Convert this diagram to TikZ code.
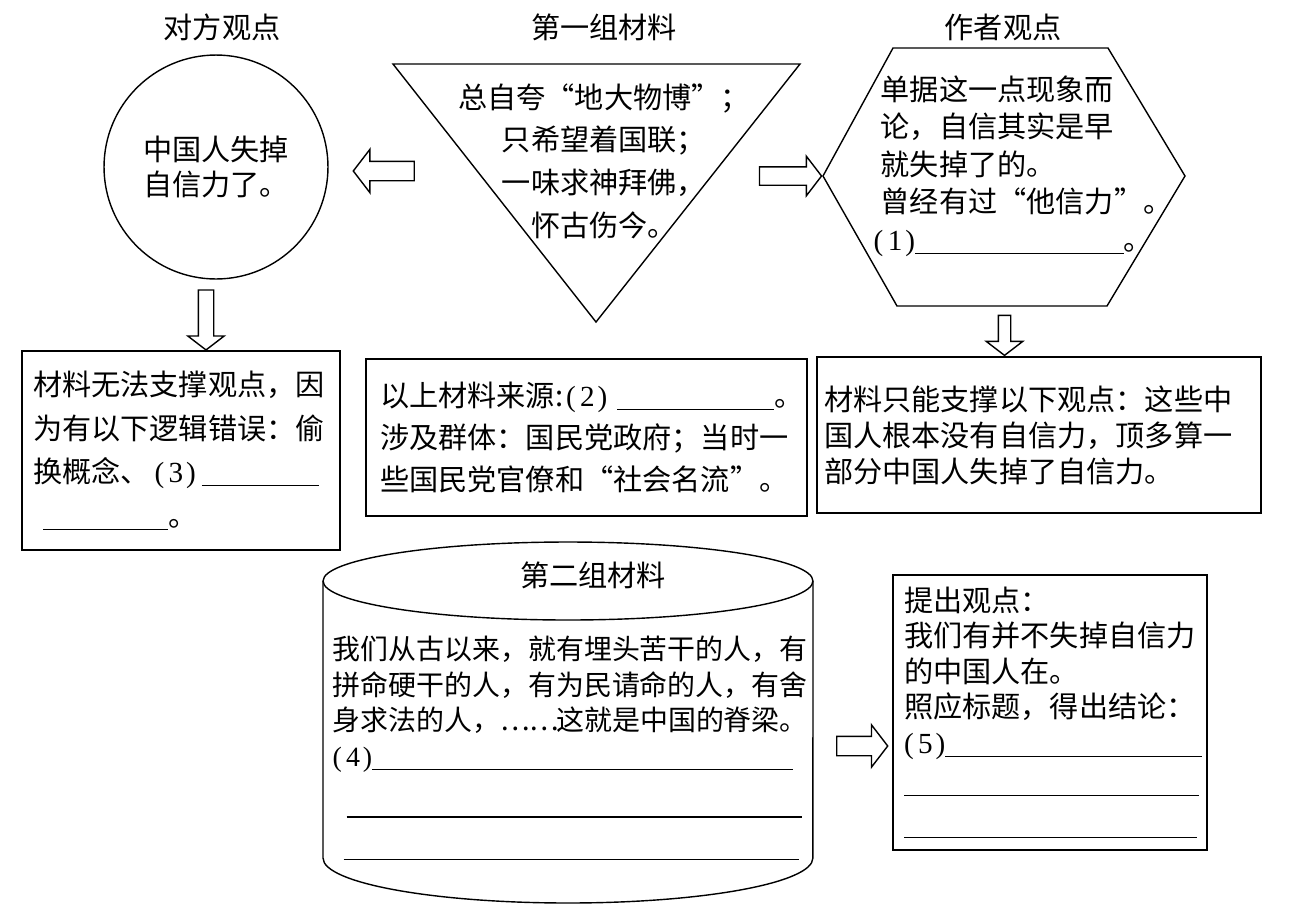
\documentclass[tikz,border=0pt]{standalone}
\usepackage{fontspec}
\setmainfont{Noto Sans CJK SC}
\newfontfamily\latinfont{Liberation Serif}
\usetikzlibrary{shapes.arrows}
\setlength{\parindent}{0pt}
\newcommand{\fillin}[1]{\rule[-2pt]{#1}{0.6pt}}
\newcommand{\qnum}[1]{{\latinfont(\kern0.15em#1\kern0.1em)}}

\begin{document}
\begin{tikzpicture}[x=0.02cm,y=-0.02cm,line width=0.8pt,
	title/.style={inner sep=0pt,font=\fontsize{16.6}{20}\selectfont},
	txt/.style={inner sep=0pt,align=left,font=\fontsize{16.6}{#1}\selectfont},
	box/.style={draw,inner sep=0pt,align=left,font=\fontsize{16.6}{#1}\selectfont},
	fat/.style n args={4}{single arrow,draw,inner sep=0pt,single arrow tip angle=105,
		single arrow head indent=0pt,minimum height=#1,minimum width=0pt,
		text height=#2,text depth=0pt,text width=0pt,
		single arrow head extend=#3,rotate=#4}]
	\path[use as bounding box] (0,0) rectangle (1292,917);

	\node[title] (t1) at (222,27) {对方观点};
	\node[title] (t2) at (604,27) {第一组材料};
	\node[title] (t3) at (1003,27) {作者观点};

	\node[draw,circle,minimum size=4.48cm,txt=19.9pt,align=center] (them) at (216,167) {中国人失掉\\自信力了。};

	\draw (393,64) -- (800,64) -- (596,322) -- cycle;
	\node[txt=24.3pt,align=center] (mat1) at (604,161) {总自夸“地大物博”；\\只希望着国联；\\一味求神拜佛，\\怀古伤今。};

	\draw (893,48) -- (1108,48) -- (1185,176) -- (1107,306) -- (897,306) -- (823,176) -- cycle;
	\node[txt=21.3pt,anchor=west] (author) at (880,166) {单据这一点现象而\\论，自信其实是早\\就失掉了的。\\曾经有过“他信力”。\\\hspace*{-0.14cm}\qnum{1}\fillin{4.18cm}。};

	\node[fat={1.22cm}{0.36cm}{0.24cm}{180}] (a1) at (387.5,171) {};
	\node[fat={1.24cm}{0.34cm}{0.21cm}{0}] (a2) at (787,176) {};
	\node[fat={1.2cm}{0.28cm}{0.21cm}{270}] (a3) at (206,317) {};
	\node[fat={0.8cm}{0.22cm}{0.24cm}{270}] (a4) at (1004.5,333) {};
	\node[fat={1.02cm}{0.36cm}{0.23cm}{0}] (a5) at (858.5,746) {};

	\node[box=25pt,minimum width=6.36cm,minimum height=3.98cm,text width=5.92cm] (flaw) at (181,450.5)
		{材料无法支撑观点，因\\为有以下逻辑错误：偷\\换概念、\kern0.1cm\qnum{3}\kern0.12cm\fillin{2.34cm}\\\hspace*{0.2cm}\fillin{2.5cm}。};
	\node[box=23.9pt,minimum width=8.82cm,minimum height=3.14cm,text width=8.26cm] (source) at (586.5,437.5)
		{以上材料来源:\kern0.06cm\qnum{2}\kern0.2cm\fillin{3.14cm}。\\涉及群体：国民党政府；当时一\\些国民党官僚和“社会名流”。};
	\node[box=20.5pt,minimum width=8.88cm,minimum height=3.12cm,text width=8.6cm] (support) at (1039,435)
		{材料只能支撑以下观点：这些中\\国人根本没有自信力，顶多算一\\部分中国人失掉了自信力。};

	\draw (568,581) ellipse [x radius=4.9cm,y radius=0.78cm];
	\draw (323,581) -- (323,858) arc [start angle=180,end angle=360,x radius=4.9cm,y radius=0.9cm] -- (813,581);
	\node[title] (t4) at (593,575) {第二组材料};
	\node[txt=20.3pt,font=\fontsize{15.9}{20.3}\selectfont,text width=9.7cm,anchor=west] (mat2) at (332,748)
		{我们从古以来，就有埋头苦干的人，有\\拼命硬干的人，有为民请命的人，有舍\\身求法的人，\makebox[1.12cm][s]{…\hfill…}这就是中国的脊梁。\\\qnum{4}\fillin{8.42cm}\\[6.8pt]\hspace*{0.28cm}\fillin{9.1cm}\\[4pt]\hspace*{0.22cm}\fillin{9.1cm}};

	\node[box=20.2pt,minimum width=6.28cm,minimum height=5.5cm,text width=5.84cm] (claim) at (1050,712.5)
		{提出观点：\\我们有并不失掉自信力\\的中国人在。\\照应标题，得出结论：\\\qnum{5}\fillin{5.14cm}\\[2.3pt]\fillin{5.9cm}\\[3.7pt]\fillin{5.86cm}};
\end{tikzpicture}
\end{document}
